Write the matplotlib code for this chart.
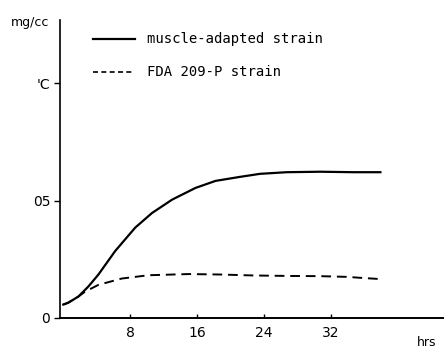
import matplotlib
matplotlib.use("Agg")
import matplotlib.pyplot as plt

# time (hrs) and concentration (mg/cc)
hours_muscle = [0, 0.6, 1.8, 3.0, 4.2, 6.2, 8.6, 10.6, 13.0, 15.8,
                18.2, 21.1, 23.5, 26.7, 30.7, 34.7, 37.9]
conc_muscle = [0.0057, 0.0065, 0.0091, 0.0134, 0.0185, 0.0285, 0.0385,
               0.0447, 0.0504, 0.0554, 0.0584, 0.0601, 0.0614, 0.0621,
               0.0623, 0.0621, 0.0621]

hours_fda = [0, 0.6, 1.8, 2.6, 4.2, 7.0, 10.2, 15.0, 18.8, 22.7, 26.7,
             30.7, 33.9, 35.9, 38.2]
conc_fda = [0.0057, 0.0065, 0.0091, 0.0112, 0.0141, 0.0168, 0.0182,
            0.0187, 0.0185, 0.0181, 0.0179, 0.0178, 0.0175, 0.0170, 0.0165]

x_ticks = [8, 16, 24, 32]
y_ticks = [0, 0.05, 0.10]
y_labels = ["0", "05", "'C"]

fig = plt.figure(figsize=(4.44, 3.49), dpi=100)
fig.patch.set_facecolor("white")
ax = fig.add_axes([0.135, 0.089, 0.865, 0.854])

ax.plot(hours_muscle, conc_muscle, color="black", lw=1.6,
        solid_joinstyle="round")
ax.plot(hours_fda, conc_fda, color="black", lw=1.4, dashes=(5, 3))

ax.set_xlim(-0.4, 45.5)
ax.set_ylim(0, 0.127)

for side in ("top", "right"):
    ax.spines[side].set_visible(False)
ax.spines["left"].set_linewidth(1.2)
ax.spines["bottom"].set_linewidth(1.4)

ax.set_xticks(x_ticks)
ax.set_xticklabels([str(t) for t in x_ticks])
ax.set_yticks(y_ticks)
ax.set_yticklabels(y_labels)
ax.tick_params(axis="x", direction="in", length=3, width=1, labelsize=10, pad=6)
ax.tick_params(axis="y", direction="out", length=4, width=1, labelsize=10, pad=3)

# hand-drawn legend
ax.plot([3.6, 8.6], [0.119, 0.119], color="black", lw=1.6)
ax.text(10.0, 0.119, "muscle-adapted strain", fontsize=10,
        family="DejaVu Sans Mono", va="center", ha="left")
ax.plot([3.6, 8.4], [0.105, 0.105], color="black", lw=1.2, dashes=(3, 2))
ax.text(10.0, 0.105, "FDA 209-P strain", fontsize=10,
        family="DejaVu Sans Mono", va="center", ha="left")

fig.text(0.025, 0.935, "mg/cc", fontsize=9, ha="left", va="center")
fig.text(0.94, 0.02, "hrs", fontsize=9, ha="left", va="center")

fig.savefig("out.png", dpi=100, facecolor="white")
